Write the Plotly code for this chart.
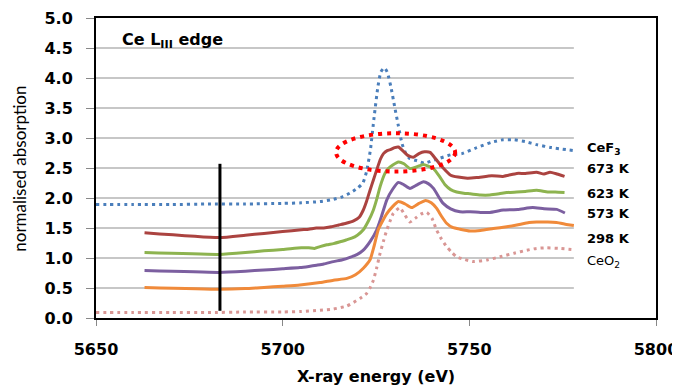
import plotly.graph_objects as go

# ---------------- data ----------------
cef3_x = [5650, 5660, 5670, 5680, 5690, 5700, 5705, 5710, 5713, 5716, 5718, 5720, 5721.5, 5722.5,
          5723.5, 5724.5, 5725.5, 5726.3, 5727.2, 5728, 5729, 5730, 5731, 5732, 5733, 5734, 5736,
          5738, 5740, 5742, 5745, 5748, 5752, 5756, 5759, 5762, 5765, 5768, 5772, 5778]
cef3_y = [1.89, 1.89, 1.89, 1.90, 1.90, 1.91, 1.92, 1.94, 1.97, 2.02, 2.08, 2.16, 2.25, 2.45,
          2.80, 3.35, 3.85, 4.10, 4.17, 4.10, 3.85, 3.52, 3.20, 2.90, 2.74, 2.66, 2.62,
          2.58, 2.62, 2.66, 2.72, 2.74, 2.84, 2.93, 2.97, 2.97, 2.94, 2.89, 2.84, 2.79]

k673_x = [5663, 5683, 5690, 5695, 5700, 5705, 5707, 5709, 5711, 5713, 5715, 5717, 5719, 5720.5,
          5721.6, 5722.5, 5723.4, 5724.3, 5725.2, 5726.2, 5727, 5728, 5729, 5730, 5731, 5732.3,
          5733.5, 5735, 5736.5, 5738, 5739.5, 5741, 5743, 5745, 5747, 5749.5, 5752, 5756, 5759,
          5762.7, 5765, 5768, 5770, 5771.6, 5773.5, 5775.5]
k673_y = [1.42, 1.34, 1.38, 1.41, 1.44, 1.47, 1.48, 1.50, 1.50, 1.52, 1.55, 1.58, 1.62, 1.68,
          1.80, 1.95, 2.13, 2.30, 2.47, 2.65, 2.74, 2.79, 2.81, 2.84, 2.85, 2.78,
          2.71, 2.68, 2.74, 2.77, 2.76, 2.65, 2.50, 2.38, 2.35, 2.33, 2.34, 2.37, 2.36,
          2.41, 2.41, 2.43, 2.40, 2.43, 2.40, 2.36]

k623_x = [5663, 5683, 5690, 5695, 5700, 5705, 5707, 5708.5, 5710, 5711.8, 5713.6, 5715.4, 5717,
          5718.5, 5720, 5721.6, 5723, 5724.3, 5725.2, 5726.1, 5727.4, 5728.3, 5729.5, 5731,
          5732.5, 5734.1, 5736, 5737.7, 5739, 5740.4, 5742, 5743.5, 5745, 5746.6, 5748.5,
          5750.2, 5753, 5755.5, 5758, 5760, 5762.7, 5765, 5768, 5771, 5773, 5775.5]
k623_y = [1.09, 1.06, 1.09, 1.12, 1.14, 1.17, 1.17, 1.16, 1.19, 1.22, 1.24, 1.27, 1.30,
          1.33, 1.38, 1.47, 1.62, 1.80, 1.98, 2.19, 2.41, 2.49, 2.55, 2.60,
          2.57, 2.49, 2.52, 2.56, 2.53, 2.49, 2.36, 2.22, 2.14, 2.10, 2.08,
          2.07, 2.05, 2.05, 2.07, 2.09, 2.10, 2.11, 2.13, 2.10, 2.10, 2.09]

k573_x = [5663, 5683, 5690, 5695, 5700, 5704.6, 5707, 5709.1, 5711, 5713.6, 5716, 5718, 5720,
          5721.6, 5723.5, 5725.2, 5726.5, 5727.9, 5729.5, 5731, 5732.5, 5734.1, 5736, 5737.7,
          5739, 5740.4, 5742, 5743, 5745, 5747.5, 5750.2, 5753, 5755.5, 5759.1, 5763, 5767,
          5770, 5773.4, 5775.6]
k573_y = [0.79, 0.76, 0.78, 0.80, 0.82, 0.84, 0.86, 0.88, 0.90, 0.94, 0.97, 1.01, 1.06,
          1.13, 1.28, 1.47, 1.70, 1.97, 2.15, 2.26, 2.22, 2.16, 2.22, 2.27,
          2.24, 2.16, 2.00, 1.91, 1.82, 1.77, 1.77, 1.76, 1.76, 1.80, 1.81, 1.84,
          1.82, 1.81, 1.75]

k298_x = [5663, 5683, 5690, 5695, 5700, 5704.6, 5710, 5713.6, 5717.2, 5719.5, 5721.6, 5723.4,
          5724.5, 5725.6, 5726.8, 5727.9, 5729.5, 5731, 5732.8, 5734.6, 5736.5, 5738.3, 5739.8,
          5741.2, 5742.5, 5743.9, 5745.5, 5747.5, 5750.2, 5753, 5756.4, 5760, 5762.7, 5766,
          5768, 5771, 5773.4, 5776, 5778]
k298_y = [0.51, 0.48, 0.49, 0.51, 0.53, 0.55, 0.59, 0.63, 0.66, 0.72, 0.83, 0.97,
          1.20, 1.47, 1.62, 1.74, 1.86, 1.94, 1.90, 1.84, 1.91, 1.96, 1.92,
          1.83, 1.70, 1.58, 1.51, 1.48, 1.45, 1.46, 1.49, 1.52, 1.55, 1.59,
          1.60, 1.60, 1.59, 1.56, 1.54]

ceo2_x = [5650, 5660, 5670, 5680, 5690, 5700, 5705, 5710, 5713.6, 5717.2, 5719, 5720.8, 5722.5,
          5723.4, 5724.3, 5725.2, 5726.1, 5727, 5727.9, 5728.8, 5729.6, 5730.5, 5731.4, 5732.7,
          5734.1, 5735.5, 5737, 5738.6, 5740, 5741.2, 5742.5, 5743.9, 5745.2, 5746.6, 5748.5,
          5751, 5755, 5758.2, 5762, 5765.4, 5768, 5770.7, 5774, 5778]
ceo2_y = [0.09, 0.09, 0.09, 0.09, 0.10, 0.10, 0.11, 0.13, 0.15, 0.20, 0.26, 0.33, 0.41,
          0.50, 0.63, 0.84, 1.08, 1.28, 1.47, 1.62, 1.74, 1.80, 1.84, 1.72,
          1.60, 1.66, 1.73, 1.76, 1.66, 1.47, 1.32, 1.19, 1.10, 1.02, 0.98,
          0.94, 0.97, 1.02, 1.08, 1.13, 1.16, 1.17, 1.16, 1.14]

series_names = ["CeF<sub>3</sub>", "673 K", "623 K", "573 K", "298 K", "CeO<sub>2</sub>"]
label_y = [2.83, 2.50, 2.08, 1.75, 1.33, 0.95]
label_bold = [True, True, True, True, True, False]

x_ticks = [5650, 5700, 5750, 5800]
y_ticks = [0.0, 0.5, 1.0, 1.5, 2.0, 2.5, 3.0, 3.5, 4.0, 4.5, 5.0]

# drawn annotations (marker line at pre-edge and highlight ellipse)
marker_x = 5683.2
marker_y = [0.12, 2.57]
ellipse_x = [5714.3, 5746.2]
ellipse_y = [2.44, 3.08]
grid_end_x = 5778

# ---------------- figure ----------------
fig = go.Figure()

styles = [
    dict(color="#4a7ebb", width=3, dash="3px,4px"),
    dict(color="#ab4340", width=3),
    dict(color="#8db34f", width=3),
    dict(color="#7c5fa0", width=3),
    dict(color="#f08a3a", width=3),
    dict(color="#d99694", width=3, dash="3px,4px"),
]
data = [(cef3_x, cef3_y), (k673_x, k673_y), (k623_x, k623_y),
        (k573_x, k573_y), (k298_x, k298_y), (ceo2_x, ceo2_y)]

for (xs, ys), st, nm in zip(data, styles, series_names):
    fig.add_trace(go.Scatter(x=xs, y=ys, mode="lines", name=nm,
                             line=dict(shape="spline", smoothing=0.5, **st),
                             showlegend=False, hoverinfo="skip"))

# gridlines that stop before the label column
for yv in y_ticks[1:-1]:
    fig.add_shape(type="line", xref="x", yref="y", x0=x_ticks[0], x1=grid_end_x, y0=yv, y1=yv,
                  line=dict(color="#b5b5b5", width=1.5), layer="below")

# vertical black marker
fig.add_shape(type="line", xref="x", yref="y", x0=marker_x, x1=marker_x,
              y0=marker_y[0], y1=marker_y[1], line=dict(color="black", width=3))

# red dotted ellipse
fig.add_shape(type="circle", xref="x", yref="y", x0=ellipse_x[0], x1=ellipse_x[1],
              y0=ellipse_y[0], y1=ellipse_y[1],
              line=dict(color="#ff0000", width=4, dash="4px,5px"))

# series labels at right
for nm, yv, b in zip(series_names, label_y, label_bold):
    txt = f"<b>{nm}</b>" if b else nm
    fig.add_annotation(x=5781, y=yv, xref="x", yref="y", text=txt, showarrow=False,
                       xanchor="left", yanchor="middle",
                       font=dict(family="DejaVu Sans", size=13, color="black"))

# title inside plot
fig.add_annotation(x=5656.4, y=4.63, xref="x", yref="y",
                   text="<b>Ce L<sub>III</sub> edge</b>", showarrow=False,
                   xanchor="left", yanchor="middle",
                   font=dict(family="DejaVu Sans", size=16, color="black"))

# axis titles
fig.add_annotation(x=-0.136, y=0.497, xref="paper", yref="paper", text="normalised absorption",
                   showarrow=False, textangle=-90, xanchor="center", yanchor="middle",
                   font=dict(family="Lato", size=17, color="black"))
fig.add_annotation(x=0.5, y=-0.196, xref="paper", yref="paper", text="<b>X-ray energy (eV)</b>",
                   showarrow=False, xanchor="center", yanchor="middle",
                   font=dict(family="DejaVu Sans", size=16, color="black"))

# page body adds an 8px margin, so the figure is 8px smaller and margins shifted
fig.update_layout(
    width=672, height=379,
    margin=dict(l=88, r=24, t=10, b=69),
    paper_bgcolor="white", plot_bgcolor="white",
    font=dict(family="DejaVu Sans", color="black"),
    xaxis=dict(range=[5650, 5800], tickvals=x_ticks, ticktext=[str(v) for v in x_ticks],
               showgrid=False, zeroline=False, showline=True, linecolor="black", linewidth=2,
               mirror=True, ticks="outside", ticklen=6, tickcolor="#888", tickwidth=1,
               ticklabelstandoff=10, automargin=False,
               tickfont=dict(family="DejaVu Sans", size=16, color="black", weight="bold")),
    yaxis=dict(range=[0, 5], tickvals=y_ticks, ticktext=[f"{v:.1f}" for v in y_ticks],
               showgrid=False, zeroline=False, showline=True, linecolor="black", linewidth=2,
               mirror=True, ticks="outside", ticklen=8, tickcolor="#888", tickwidth=1,
               ticklabelstandoff=10, automargin=False,
               tickfont=dict(family="DejaVu Sans", size=16, color="black", weight="bold")),
)

fig.write_html("out.html")
